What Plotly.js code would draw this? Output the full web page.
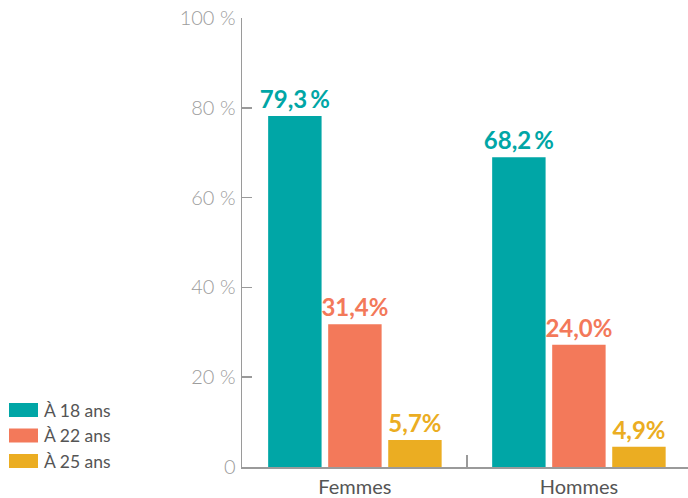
<!DOCTYPE html>
<html>
<head>
<meta charset="utf-8">
<script src="https://cdn.plot.ly/plotly-3.0.1.min.js"></script>
<style>html,body{margin:0;padding:0;background:#fff;}#chart{width:688px;height:498px;}</style>
</head>
<body>
<div id="chart"></div>
<script>
const categories = ['Femmes', 'Hommes'];
const seriesNames = ['À 18 ans', 'À 22 ans', 'À 25 ans'];
// bar heights as drawn in the picture
const values18 = [78.2, 69.0];
const values22 = [31.8, 27.2];
const values25 = [6.0, 4.5];
// printed value labels
const labels18 = ['79,3\u2009%', '68,2\u2009%'];
const labels22 = ['31,4%', '24,0%'];
const labels25 = ['5,7%', '4,9%'];
const yTickVals = [0, 20, 40, 60, 80, 100];
const yTickText = ['0', '20 %', '40 %', '60 %', '80 %', '100 %'];

const colors = ['#00A6A6', '#F3795A', '#EBAD22'];
const W = 688, H = 498;
const M = {l: 242, r: 0, t: 18, b: 31};
const pw = W - M.l - M.r, ph = H - M.t - M.b;
const px2x = p => (p - M.l) / pw;
const py2y = p => (H - M.b - p) / ph;

const seriesValues = [values18, values22, values25];
const seriesLabels = [labels18, labels22, labels25];
const labelFont = 'Lato, "Open Sans", sans-serif';

const traces = seriesNames.map((name, i) => ({
  type: 'bar',
  name: name,
  x: categories,
  y: seriesValues[i],
  text: seriesLabels[i],
  textposition: 'outside',
  constraintext: 'none',
  cliponaxis: false,
  textfont: {family: labelFont, size: 24, color: colors[i], weight: 700},
  marker: {color: colors[i], line: {width: 0}},
  hoverinfo: 'none',
  showlegend: false
}));

// custom legend (wide swatches)
const shapes = [];
const annotations = [];
seriesNames.forEach((name, i) => {
  const cy = 410 + i * 25.5;
  shapes.push({type: 'rect', xref: 'paper', yref: 'paper',
    x0: px2x(9), x1: px2x(38), y0: py2y(cy + 7), y1: py2y(cy - 7),
    fillcolor: colors[i], line: {width: 0}});
  annotations.push({xref: 'paper', yref: 'paper', x: px2x(42), y: py2y(cy),
    xanchor: 'left', yanchor: 'middle', showarrow: false, text: name,
    font: {family: labelFont, size: 17.5, color: '#555555'}});
});

const layout = {
  width: W, height: H,
  margin: M,
  paper_bgcolor: '#ffffff', plot_bgcolor: '#ffffff',
  barmode: 'group',
  bargap: 0.196,
  bargroupgap: 0.11,
  showlegend: false,
  xaxis: {
    type: 'category',
    range: [-0.504, 1.487],
    showline: true, linecolor: '#9a9a9a', linewidth: 1.5,
    ticks: 'inside', tickson: 'boundaries', ticklen: 12, tickcolor: '#9a9a9a', tickwidth: 1.5,
    showgrid: false, zeroline: false,
    tickfont: {family: labelFont, size: 20, color: '#555555'},
    ticklabelstandoff: 1,
    fixedrange: true
  },
  yaxis: {
    range: [0, 100],
    tickvals: yTickVals, ticktext: yTickText,
    showline: true, linecolor: '#9a9a9a', linewidth: 1.5,
    ticks: 'inside', ticklen: 10, tickcolor: '#9a9a9a', tickwidth: 1.5,
    showgrid: false, zeroline: false,
    tickfont: {family: labelFont, size: 20, color: '#9c9c9c', weight: 300},
    ticklabelstandoff: 1,
    fixedrange: true
  },
  shapes: shapes,
  annotations: annotations
};

Plotly.newPlot('chart', traces, layout, {displayModeBar: false, staticPlot: true});
</script>
</body>
</html>
